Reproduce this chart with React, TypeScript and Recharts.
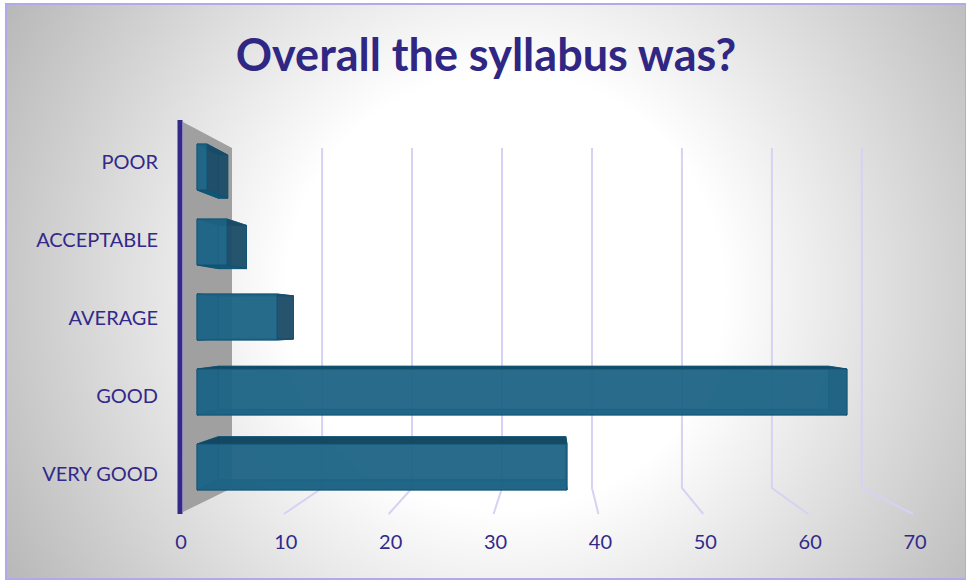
import { Bar, BarChart, XAxis, YAxis } from "recharts";

const categories = ["POOR", "ACCEPTABLE", "AVERAGE", "GOOD", "VERY GOOD"];
const responses = [1, 3, 8, 65, 37];
const ticks = [0, 10, 20, 30, 40, 50, 60, 70];

const data = categories.map((label, i) => ({ label, responses: responses[i] }));

const INK = "#33298a";
const GRID = "#d6d2f4";
const FONT = "Lato, sans-serif";

// fake 3D: everything shrinks towards this point
const VX = 547;
const VY = 324;
const BAR_DEPTH = 0.939;
const WALL_DEPTH = 0.858;

const toBack = (x: number, y: number, k: number) => [VX + (x - VX) * k, VY + (y - VY) * k];
const pts = (list: number[][]) => list.map((p) => p.join(",")).join(" ");

function Box3D({ x, y, width, height }: any) {
  const a = [x, y];
  const b = [x + width, y];
  const c = [x + width, y + height];
  const d = [x, y + height];
  const [ra, rb, rc, rd] = [a, b, c, d].map((p) => toBack(p[0], p[1], BAR_DEPTH));
  const edge = { stroke: "#0f5273", strokeWidth: 1, strokeOpacity: 0.8 };
  return (
    <g>
      <polygon points={pts([ra, rb, rc, rd])} fill="#175e7e" fillOpacity={0.7} {...edge} />
      <polygon points={pts([a, ra, rd, d])} fill="#0b5a7c" fillOpacity={0.75} {...edge} />
      <polygon points={pts([d, rd, rc, c])} fill="#0b5274" fillOpacity={0.85} {...edge} />
      <polygon points={pts([a, ra, rb, b])} fill="#12465f" fillOpacity={0.95} {...edge} />
      <polygon points={pts([b, rb, rc, c])} fill="#1c4a66" fillOpacity={0.85} {...edge} />
      <polygon points={pts([a, b, c, d])} fill="#1f6586" fillOpacity={0.85} {...edge} />
    </g>
  );
}

function FrontTick({ x, payload }: any) {
  const value = payload.value;
  const backX = VX + (x - VX) * WALL_DEPTH;
  return (
    <g>
      {value === 0 ? (
        <polygon points="183,122 232,148 232,488 183,512" fill="#a0a0a0" />
      ) : (
        <polyline
          points={`${backX},148 ${backX},488 ${x - 1},514`}
          fill="none"
          stroke={GRID}
          strokeWidth={2}
        />
      )}
      <text x={x + 1} y={549} textAnchor="middle" fontFamily={FONT} fontSize={20} fill={INK}>
        {value}
      </text>
    </g>
  );
}

const layer = { position: "absolute", left: 0, top: 0 } as const;

export default function App() {
  return (
    <div style={{ ...layer, width: 966, height: 580, background: "#fff" }}>
      <div
        style={{
          position: "absolute",
          left: 5,
          top: 3,
          width: 958,
          height: 573,
          border: "2px solid #b1aae8",
          background: "radial-gradient(circle farthest-corner at 52% 50%, #ffffff 38%, #b8b8b8 100%)",
        }}
      />
      <div
        style={{
          position: "absolute",
          left: 0,
          width: 972,
          top: 29,
          textAlign: "center",
          fontFamily: FONT,
          fontWeight: 700,
          fontSize: 45,
          lineHeight: "50px",
          color: "#2f2783",
        }}
      >
        Overall the syllabus was?
      </div>

      {/* axes, wall and grid: a separate chart so they sit behind the bars */}
      <div style={layer}>
        <BarChart
          width={966}
          height={580}
          data={data}
          layout="vertical"
          margin={{ top: 120, right: 52, bottom: 0, left: 0 }}
        >
          <XAxis
            type="number"
            domain={[0, 70]}
            ticks={ticks}
            interval={0}
            height={66}
            axisLine={false}
            tickLine={false}
            tick={<FrontTick />}
          />
          <YAxis
            type="category"
            dataKey="label"
            width={180}
            interval={0}
            padding={{ top: 2, bottom: 2 }}
            tickSize={0}
            tickMargin={22}
            axisLine={{ stroke: INK, strokeWidth: 5 }}
            tickLine={false}
            tick={{ fill: INK, fontSize: 20, fontFamily: FONT, dy: 1 }}
          />
          <Bar dataKey="responses" fill="none" shape={() => <g />} isAnimationActive={false} />
        </BarChart>
      </div>

      <div style={layer}>
        <BarChart
          width={966}
          height={580}
          data={data}
          layout="vertical"
          margin={{ top: 120, right: 52, bottom: 66, left: 180 }}
        >
          <XAxis type="number" domain={[0, 70]} padding={{ left: 17, right: 17 }} hide />
          <YAxis type="category" dataKey="label" padding={{ top: 9, bottom: 10 }} hide />
          <Bar dataKey="responses" barSize={46} shape={<Box3D />} isAnimationActive={false} />
        </BarChart>
      </div>
    </div>
  );
}
